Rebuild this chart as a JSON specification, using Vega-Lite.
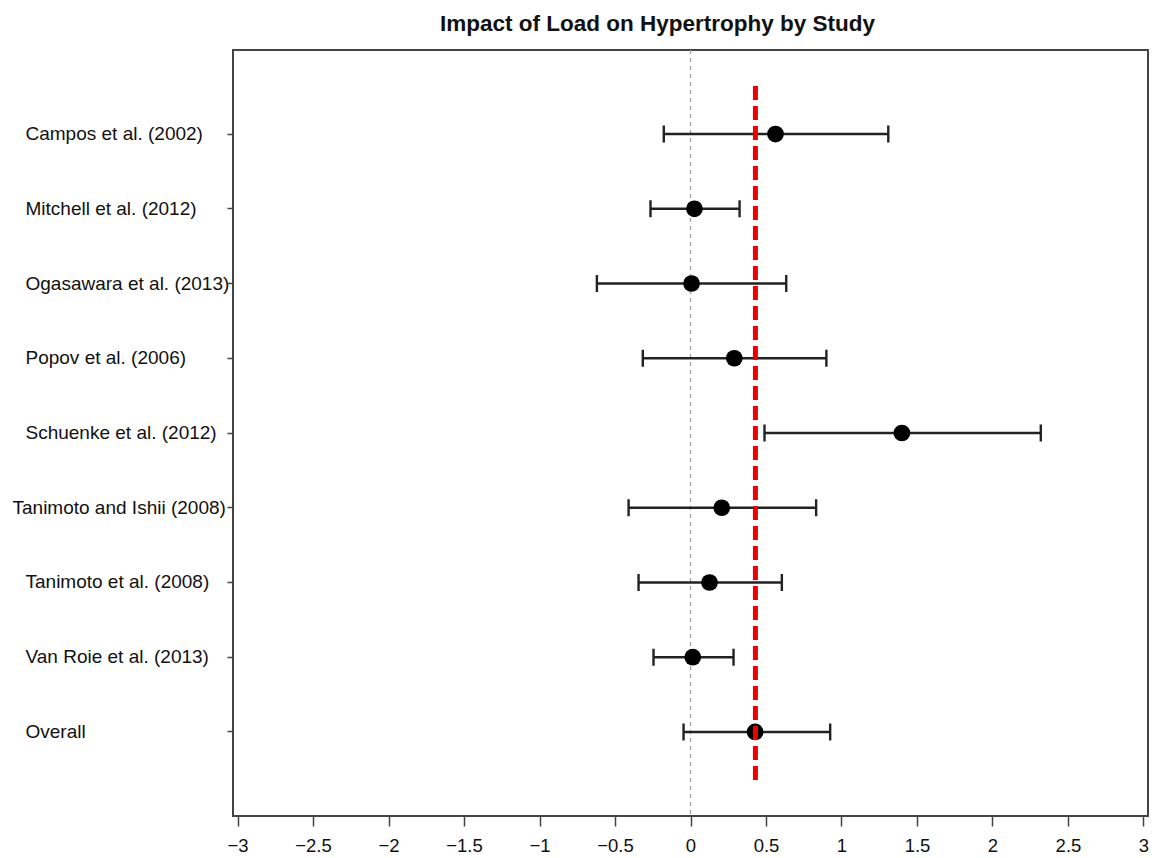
{
  "$schema": "https://vega.github.io/schema/vega-lite/v6.json",
  "width": 915,
  "height": 766,
  "autosize": "none",
  "padding": {"left": 233, "top": 50, "right": 7, "bottom": 42},
  "background": "white",
  "title": {
    "text": "Impact of Load on Hypertrophy by Study",
    "font": "Liberation Sans",
    "fontSize": 22.5,
    "fontWeight": "bold",
    "color": "#111",
    "anchor": "middle",
    "dx": -33,
    "offset": 14
  },
  "config": {
    "font": "Liberation Sans",
    "view": {"stroke": "#444", "strokeWidth": 2}
  },
  "layer": [
    {
      "data": {"values": [{"zero": 0}]},
      "mark": {"type": "rule", "color": "#a0a0a0", "strokeDash": [4, 4], "strokeWidth": 1.3},
      "encoding": {
        "x": {"field": "zero", "type": "quantitative", "scale": {"domain": [-3.03, 3.03], "nice": false, "zero": false}, "title": null,
          "axis": {"values": [-3, -2.5, -2, -1.5, -1, -0.5, 0, 0.5, 1, 1.5, 2, 2.5, 3], "format": "~g", "grid": false, "domain": false, "tickSize": 10, "tickColor": "#444", "tickWidth": 1.5, "labelFontSize": 18.5, "labelColor": "#111", "labelPadding": 10, "labelFont": "Liberation Sans"}}
      }
    },
    {
      "data": {
        "values": [
          {"study": "Campos et al. (2002)", "lo": -0.177, "est": 0.563, "hi": 1.31},
          {"study": "Mitchell et al. (2012)", "lo": -0.265, "est": 0.026, "hi": 0.325},
          {"study": "Ogasawara et al. (2013)", "lo": -0.62, "est": 0.007, "hi": 0.634},
          {"study": "Popov et al. (2006)", "lo": -0.316, "est": 0.29, "hi": 0.9},
          {"study": "Schuenke et al. (2012)", "lo": 0.49, "est": 1.4, "hi": 2.32},
          {"study": "Tanimoto and Ishii (2008)", "lo": -0.41, "est": 0.207, "hi": 0.832},
          {"study": "Tanimoto et al. (2008)", "lo": -0.344, "est": 0.126, "hi": 0.605},
          {"study": "Van Roie et al. (2013)", "lo": -0.245, "est": 0.015, "hi": 0.285},
          {"study": "Overall", "lo": -0.046, "est": 0.428, "hi": 0.925}
        ]
      },
      "encoding": {
        "y": {
          "field": "study",
          "type": "nominal",
          "sort": null,
          "title": null,
          "scale": {"type": "band", "paddingInner": 0, "paddingOuter": 0.624},
          "axis": {
            "domain": false,
            "grid": false,
            "tickSize": 6,
            "tickColor": "#444",
            "tickWidth": 1.5,
            "labelAlign": "left",
            "labelBaseline": "middle",
            "labelPadding": {"condition": {"test": "datum.value === 'Tanimoto and Ishii (2008)'", "value": 215}, "value": 202},
            "labelFontSize": 19,
            "labelColor": "#111",
            "labelLimit": 0,
            "labelFont": "Liberation Sans"
          }
        }
      },
      "layer": [
        {
          "mark": {"type": "rule", "color": "#222", "strokeWidth": 2.4},
          "encoding": {
            "x": {"field": "lo", "type": "quantitative", "scale": {"domain": [-3.03, 3.03], "nice": false, "zero": false}, "title": null},
            "x2": {"field": "hi"}
          }
        },
        {
          "mark": {"type": "tick", "color": "#222", "thickness": 2.4, "size": 17, "opacity": 1},
          "encoding": {
            "x": {"field": "lo", "type": "quantitative", "title": null}
          }
        },
        {
          "mark": {"type": "tick", "color": "#222", "thickness": 2.4, "size": 17, "opacity": 1},
          "encoding": {
            "x": {"field": "hi", "type": "quantitative", "title": null}
          }
        },
        {
          "mark": {"type": "circle", "color": "black", "size": 280, "opacity": 1},
          "encoding": {
            "x": {"field": "est", "type": "quantitative", "title": null}
          }
        }
      ]
    },
    {
      "data": {"values": [{"ref": 0.43, "top": 0.358, "bottom": 9.72}]},
      "mark": {"type": "rule", "color": "#ee0000", "strokeWidth": 5, "strokeDash": [14, 6]},
      "encoding": {
        "x": {"field": "ref", "type": "quantitative", "title": null},
        "y": {"field": "top", "type": "quantitative", "scale": {"domain": [-0.124, 10.124], "reverse": true, "nice": false, "zero": false}, "axis": null},
        "y2": {"field": "bottom"}
      }
    }
  ],
  "resolve": {"scale": {"y": "independent"}}
}
